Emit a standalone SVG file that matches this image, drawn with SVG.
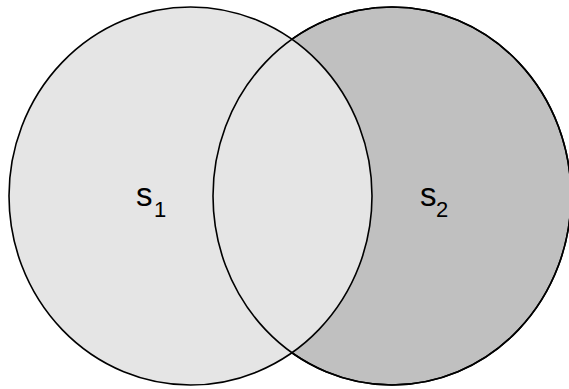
<svg xmlns="http://www.w3.org/2000/svg" width="569" height="389" viewBox="0 0 569 389">
<style>
.o{stroke:#000;stroke-width:1.6}
.t{font-family:"Liberation Sans",Arial,sans-serif;fill:#000}
</style>
<rect width="569" height="389" fill="#fff"/>
<g id="s2-set">
<ellipse class="o" cx="392" cy="196" rx="179" ry="189" fill="#c0c0c0"/>
</g>
<g id="s1-set">
<ellipse class="o" cx="190.5" cy="196" rx="181.5" ry="189" fill="#e5e5e5"/>
</g>
<g id="s2-outline">
<ellipse class="o" cx="392" cy="196" rx="179" ry="189" fill="none"/>
</g>
<g id="label-s1">
<text class="t" x="136" y="206" font-size="33">s</text>
<text class="t" x="154" y="216.5" font-size="22">1</text>
</g>
<g id="label-s2">
<text class="t" x="420" y="206" font-size="33">s</text>
<text class="t" x="436" y="216.5" font-size="22">2</text>
</g>
</svg>
